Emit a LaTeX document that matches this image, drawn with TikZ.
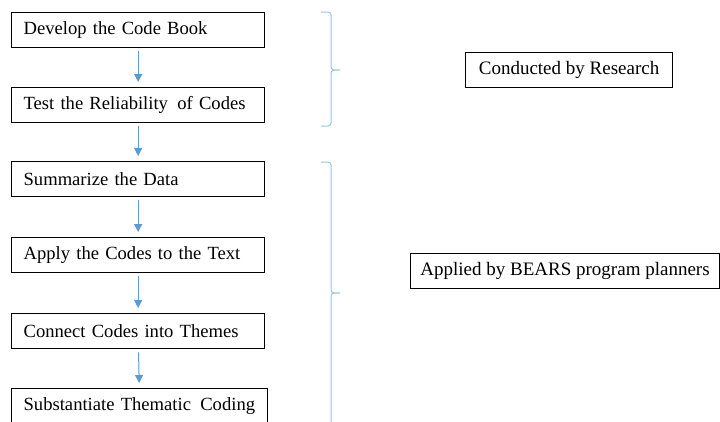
\documentclass[tikz,border=0pt]{standalone}
\usepackage{fontspec}
\setmainfont{Liberation Serif}
\usetikzlibrary{arrows.meta}
\definecolor{flowblue}{HTML}{5B9BD5}
\definecolor{braceblue}{HTML}{9DC3E6}
% step labels: slightly tighter word spacing
\newcommand{\stepfont}{\fontsize{18.6}{22}\selectfont\spaceskip=0.22em plus 0.05em\relax}
\begin{document}
\begin{tikzpicture}[x=1pt,y=-1pt,
  stepbox/.style={draw=black,line width=1.3pt,rectangle,anchor=north west,
    text width=229pt,align=left,inner xsep=12pt,inner ysep=0pt,
    minimum height=35pt,font=\stepfont},
  rolebox/.style={draw=black,line width=1.1pt,rectangle,anchor=north west,
    inner xsep=0pt,inner ysep=0pt,minimum height=35pt,align=center,
    font=\fontsize{19}{22}\selectfont},
  flow/.style={draw=flowblue,line width=1pt,-{Triangle[width=8pt,length=8pt]},
    shorten <=3pt,shorten >=5pt},
  bracket/.style={draw=braceblue,line width=1pt}]
\useasboundingbox (0,0) rectangle (720,421);
\clip (0,0) rectangle (720,421);

% process steps
\node[stepbox] (dev)  at (11,12)  {\mbox{Develop the Code Book}};
\node[stepbox] (test) at (11,87)  {\mbox{Test the Reliability\, of Codes}};
\node[stepbox] (sum)  at (11,161) {\mbox{Summarize the Data}};
\node[stepbox] (app)  at (11,237) {\mbox{Apply the Codes to the Text}};
\node[stepbox] (con)  at (11,313) {\mbox{Connect Codes into Themes}};
\node[stepbox,text width=232pt] (sub) at (11,388) {\mbox{Substantiate Thematic\, Coding}};

% arrows between steps
\draw[flow] (dev)  -- (test);
\draw[flow] (test) -- (sum);
\draw[flow] (sum)  -- (app);
\draw[flow] (app)  -- (con);
\draw[flow] (con)  -- (sub);

% braces grouping the steps
\draw[bracket] (321,12) -- (328,12) to[out=0,in=90] (331,15) -- (331,67)
  to[out=-90,in=180] (340,70) to[out=180,in=90] (331,73) -- (331,123)
  to[out=-90,in=0] (328,126) -- (321,126);
\draw[bracket] (321,162) -- (328,162) to[out=0,in=90] (331,165) -- (331,290)
  to[out=-90,in=180] (340,293) to[out=180,in=90] (331,296) -- (331,430);

% responsible parties
\node[rolebox,minimum width=207pt] (res) at (465,52) {Conducted by Research};
\node[rolebox,minimum width=309pt] (bears) at (410,253) {Applied by BEARS program planners};
\end{tikzpicture}
\end{document}
